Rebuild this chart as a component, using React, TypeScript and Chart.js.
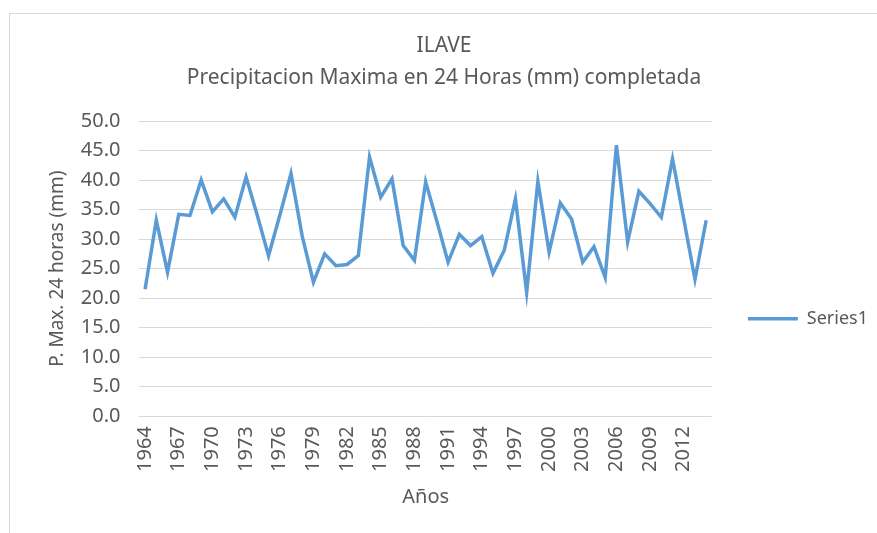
import React, { useEffect, useRef } from "react";
import { Chart, registerables } from "chart.js";

Chart.register(...registerables);

const years: string[] = [
  "1964", "1965", "1966", "1967", "1968", "1969", "1970", "1971", "1972", "1973",
  "1974", "1975", "1976", "1977", "1978", "1979", "1980", "1981", "1982", "1983",
  "1984", "1985", "1986", "1987", "1988", "1989", "1990", "1991", "1992", "1993",
  "1994", "1995", "1996", "1997", "1998", "1999", "2000", "2001", "2002", "2003",
  "2004", "2005", "2006", "2007", "2008", "2009", "2010", "2011", "2012", "2013",
  "2014",
];

const series1: number[] = [
  21.5, 33.2, 24.4, 34.2, 34.0, 40.0, 34.6, 36.8, 33.7, 40.5,
  34.0, 27.2, 34.0, 41.1, 30.5, 22.7, 27.5, 25.5, 25.7, 27.2,
  43.9, 37.1, 40.2, 28.9, 26.4, 39.7, 33.0, 26.1, 30.8, 28.9,
  30.4, 24.2, 28.1, 36.8, 21.0, 39.8, 27.8, 36.1, 33.4, 26.1,
  28.7, 23.5, 45.9, 29.5, 38.1, 36.0, 33.7, 43.6, 33.4, 23.2,
  33.2,
];

const titleLines: string[] = ["ILAVE", "Precipitacion Maxima en 24 Horas (mm) completada"];
const yTitle = "P. Max. 24 horas (mm)";
const xTitle = "Años";
const seriesName = "Series1";

const FONT = "'Noto Sans', 'Open Sans', sans-serif";
const TEXT = "#595959";
const GRID = "#d9d9d9";
const BLUE = "#5B9BD5";

export default function App() {
  const ref = useRef<HTMLCanvasElement | null>(null);

  useEffect(() => {
    if (!ref.current) return;
    const chart = new Chart(ref.current, {
      type: "line",
      data: {
        labels: years,
        datasets: [
          {
            label: seriesName,
            data: series1,
            borderColor: BLUE,
            backgroundColor: BLUE,
            borderWidth: 3.5,
            pointRadius: 0,
            tension: 0,
            fill: false,
          },
        ],
      },
      options: {
        responsive: false,
        animation: false,
        layout: { padding: { left: 0, right: 32, top: 0, bottom: 0 } },
        plugins: {
          title: {
            display: true,
            text: titleLines,
            color: TEXT,
            font: { family: FONT, size: 21, weight: "normal", lineHeight: 1.524 },
            padding: { top: 16, bottom: 27 },
          },
          legend: {
            display: true,
            position: "right",
            align: "center",
            title: { display: true, text: "", font: { size: 12 }, padding: 38 },
            labels: {
              color: TEXT,
              font: { family: FONT, size: 18 },
              usePointStyle: true,
              pointStyle: "line",
              pointStyleWidth: 50,
              padding: 36,
            },
          },
          tooltip: { enabled: false },
        },
        scales: {
          x: {
            offset: true,
            grid: { display: false, drawTicks: false },
            border: { display: false },
            ticks: {
              autoSkip: false,
              maxRotation: 90,
              minRotation: 90,
              padding: 10,
              color: TEXT,
              font: { family: FONT, size: 20 },
              callback: (_v: any, i: number) => (i % 3 === 0 ? years[i] : ""),
            },
            title: {
              display: true,
              text: xTitle,
              color: TEXT,
              font: { family: FONT, size: 20, lineHeight: 1.0 },
              padding: { top: 5, bottom: 26 },
            },
          },
          y: {
            min: 0,
            max: 50,
            grid: { color: GRID, lineWidth: 1, drawTicks: false },
            border: { display: false },
            ticks: {
              stepSize: 5,
              padding: 19,
              color: TEXT,
              font: { family: FONT, size: 20 },
              callback: (v: any) => Number(v).toFixed(1),
            },
            title: {
              display: true,
              text: yTitle,
              color: TEXT,
              font: { family: FONT, size: 19 },
              padding: { top: 36, bottom: -7 },
            },
          },
        },
      },
    });
    return () => chart.destroy();
  }, []);

  return (
    <div
      style={{
        position: "absolute",
        left: 9,
        top: 13,
        width: 867,
        height: 519,
        borderLeft: "1px solid #d9d9d9",
        borderTop: "1px solid #d9d9d9",
        overflow: "hidden",
        background: "#fff",
      }}
    >
      <canvas ref={ref} width={900} height={519} style={{ display: "block", width: 900, height: 519 }} />
    </div>
  );
}
